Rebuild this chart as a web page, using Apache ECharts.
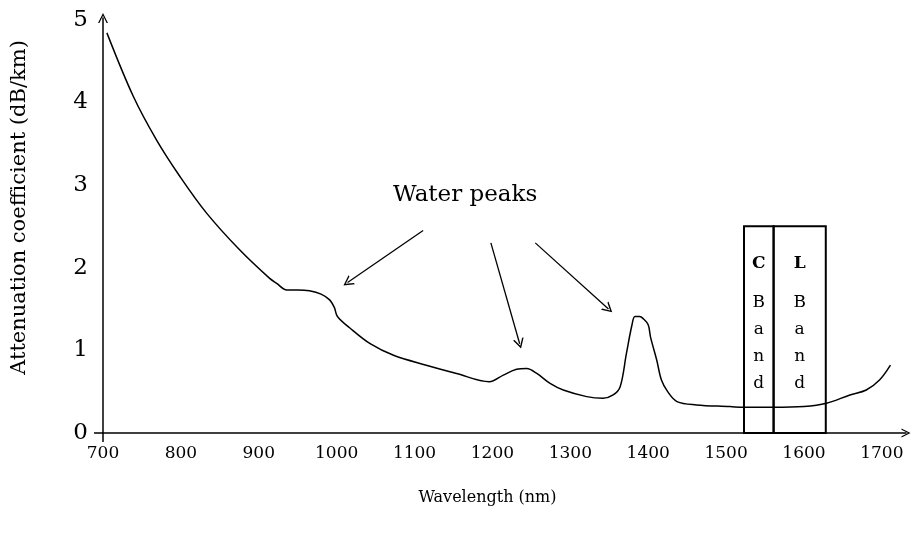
<!DOCTYPE html>
<html>
<head>
<meta charset="utf-8">
<script src="https://cdn.jsdelivr.net/npm/echarts@6/dist/echarts.min.js"></script>
<style>html,body{margin:0;padding:0;background:#fff}#c{width:912px;height:537px}</style>
</head>
<body>
<div id="c"></div>
<script>
// Wavelength (nm) and attenuation (dB/km)
const wavelength = [705, 739, 769, 799, 833, 876, 914, 923, 936, 950, 965, 980, 991, 997, 1001, 1017, 1043, 1073, 1115, 1154, 1196, 1214, 1231, 1244, 1257, 1274, 1291, 1321, 1342, 1355, 1364, 1372, 1379, 1383, 1389, 1394, 1400, 1403, 1411, 1417, 1425, 1437, 1462, 1505, 1522, 1560, 1600, 1629, 1659, 1680, 1697, 1711];
const attenuation = [4.84, 4.07, 3.54, 3.10, 2.66, 2.21, 1.87, 1.81, 1.73, 1.73, 1.72, 1.68, 1.61, 1.52, 1.41, 1.27, 1.08, 0.94, 0.82, 0.72, 0.62, 0.70, 0.77, 0.78, 0.72, 0.60, 0.52, 0.44, 0.42, 0.46, 0.56, 0.96, 1.30, 1.41, 1.41, 1.38, 1.31, 1.16, 0.88, 0.64, 0.50, 0.38, 0.34, 0.32, 0.31, 0.31, 0.32, 0.36, 0.46, 0.52, 0.64, 0.82];

const xTicks = [700, 800, 900, 1000, 1100, 1200, 1300, 1400, 1500, 1600, 1700];
const yTicks = [0, 1, 2, 3, 4, 5];

// Band boxes: [name, start nm, end nm, top value]
const bandNames = ['C', 'L'];
const bandStart = [1523, 1561];
const bandEnd = [1561, 1628];
const bandTop = 2.5;

// Annotation arrows: [x0, y0] -> [x1, y1] in data units
const arrowFrom = [[1111, 2.45], [1198, 2.30], [1255, 2.30]];
const arrowTo = [[1014, 1.82], [1235, 1.08], [1349, 1.50]];
const annotationText = 'Water peaks';
const annotationPos = [1165, 2.88];

const FONT = 'DejaVu Serif';
const chevron = 'path://M0,10 L5,0 L10,10 L8.6,10 L5,2.8 L1.4,10 Z';

const chart = echarts.init(document.getElementById('c'), null, {renderer: 'canvas'});
const lineData = wavelength.map((w, i) => [w, attenuation[i]]);

chart.setOption({
  animation: false,
  backgroundColor: '#fff',
  grid: {left: 103, right: 6, top: 18, bottom: 104, containLabel: false, outerBoundsMode: 'none'},
  xAxis: {
    type: 'value', min: 700, max: 1731, interval: 100,
    name: 'Wavelength (nm)', nameLocation: 'middle', nameGap: 57,
    nameTextStyle: {fontFamily: FONT, fontSize: 16, color: '#000', padding: [0, 34, 0, 0]},
    axisLine: {show: true, lineStyle: {color: '#000', width: 1.5}, symbol: ['none', chevron], symbolSize: [15, 9]},
    axisTick: {show: true, customValues: [700], length: 9, inside: false, lineStyle: {color: '#000', width: 1.5}},
    axisLabel: {customValues: xTicks, formatter: v => String(v), fontFamily: FONT, fontSize: 17, color: '#000', margin: 12},
    splitLine: {show: false}
  },
  yAxis: {
    type: 'value', min: 0, max: 5.02, interval: 1,
    name: 'Attenuation coefficient (dB/km)', nameLocation: 'middle', nameGap: 73, nameRotate: 90,
    nameTextStyle: {fontFamily: FONT, fontSize: 21, color: '#000', padding: [0, 0, 0, 36]},
    axisLine: {show: true, lineStyle: {color: '#000', width: 1.5}, symbol: ['none', chevron], symbolSize: [13, 10]},
    axisTick: {show: true, customValues: [0], length: 9, inside: false, lineStyle: {color: '#000', width: 1.5}},
    axisLabel: {customValues: yTicks, formatter: v => String(v), fontFamily: FONT, fontSize: 23, color: '#000', margin: 15},
    splitLine: {show: false}
  },
  series: [{
    type: 'line',
    data: lineData,
    showSymbol: false,
    symbol: 'none',
    smooth: 0.35,
    lineStyle: {color: '#000', width: 1.5},
    silent: true,
    markArea: {
      silent: true,
      itemStyle: {color: 'rgba(0,0,0,0)', borderColor: '#000', borderWidth: 2},
      label: {
        show: true, position: 'insideTop', distance: 25,
        formatter: p => '{b|' + p.name + '}\n\n' + 'Band'.split('').map(ch => '{r|' + ch + '}').join('\n'),
        rich: {
          b: {fontFamily: FONT, fontSize: 17, fontWeight: 'bold', color: '#000', lineHeight: 27},
          r: {fontFamily: FONT, fontSize: 17, color: '#000', lineHeight: 27}
        }
      },
      data: bandNames.map((n, i) => [
        {name: n, xAxis: bandStart[i], yAxis: 0},
        {xAxis: bandEnd[i], yAxis: bandTop}
      ])
    },
    markLine: {
      silent: true,
      symbol: ['none', chevron],
      symbolSize: [11, 10],
      lineStyle: {color: '#000', width: 1.3, type: 'solid'},
      label: {show: false},
      data: arrowFrom.map((f, i) => [{coord: f}, {coord: arrowTo[i]}])
    },
    markPoint: {
      silent: true,
      symbol: 'circle', symbolSize: 0,
      label: {show: true, position: 'inside', formatter: annotationText, fontFamily: FONT, fontSize: 23, color: '#000'},
      data: [{coord: annotationPos}]
    }
  }]
});
</script>
</body>
</html>
